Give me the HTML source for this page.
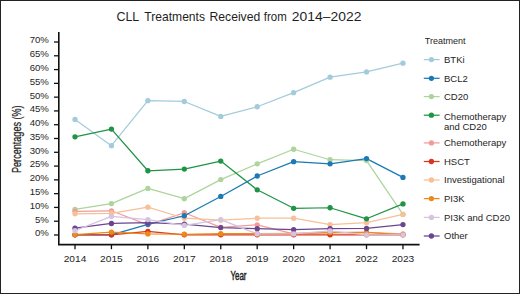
<!DOCTYPE html>
<html><head><meta charset="utf-8"><style>
html,body{margin:0;padding:0;background:#fff;}
body{width:520px;height:294px;overflow:hidden;}
svg{display:block;}
text{font-family:"Liberation Sans",sans-serif;fill:#1e1e1e;}
.tk{font-size:9.6px;}
.lt{font-size:9px;}
.lg{font-size:9.5px;}
.ti{font-size:12.2px;}
.ax{font-size:12.3px;}
.axb{stroke:#1e1e1e;stroke-width:0.25px;}
.axb2{stroke:#1e1e1e;stroke-width:0.45px;}
</style></head><body>
<svg width="520" height="294" viewBox="0 0 520 294">
<rect x="0.5" y="0.5" width="519" height="293" fill="#fff" stroke="#222" stroke-width="1"/>
<text x="116.40" y="21.2" class="ti" textLength="22.90" lengthAdjust="spacingAndGlyphs">CLL</text>
<text x="144.30" y="21.2" class="ti" textLength="60.70" lengthAdjust="spacingAndGlyphs">Treatments</text>
<text x="209.50" y="21.2" class="ti" textLength="50.70" lengthAdjust="spacingAndGlyphs">Received</text>
<text x="263.80" y="21.2" class="ti" textLength="22.90" lengthAdjust="spacingAndGlyphs">from</text>
<text x="291.80" y="21.2" class="ti" textLength="69.60" lengthAdjust="spacingAndGlyphs">2014–2022</text>
<text transform="translate(21.1,173.0) rotate(-90) scale(0.74,1)" class="ax axb">Percentages (%)</text>
<text transform="translate(230.4,280.3) scale(0.65,1)" class="ax axb2">Year</text>
<path d="M58.8,32 V244.6 H419.6" fill="none" stroke="#111" stroke-width="1.6"/>
<path d="M54,235.00 H58.8" stroke="#111" stroke-width="1.3"/>
<text x="48.9" y="236.40" text-anchor="end" class="tk">0%</text>
<path d="M54,221.22 H58.8" stroke="#111" stroke-width="1.3"/>
<text x="48.9" y="222.62" text-anchor="end" class="tk">5%</text>
<path d="M54,207.43 H58.8" stroke="#111" stroke-width="1.3"/>
<text x="48.9" y="208.83" text-anchor="end" class="tk">10%</text>
<path d="M54,193.64 H58.8" stroke="#111" stroke-width="1.3"/>
<text x="48.9" y="195.04" text-anchor="end" class="tk">15%</text>
<path d="M54,179.86 H58.8" stroke="#111" stroke-width="1.3"/>
<text x="48.9" y="181.26" text-anchor="end" class="tk">20%</text>
<path d="M54,166.07 H58.8" stroke="#111" stroke-width="1.3"/>
<text x="48.9" y="167.47" text-anchor="end" class="tk">25%</text>
<path d="M54,152.29 H58.8" stroke="#111" stroke-width="1.3"/>
<text x="48.9" y="153.69" text-anchor="end" class="tk">30%</text>
<path d="M54,138.50 H58.8" stroke="#111" stroke-width="1.3"/>
<text x="48.9" y="139.91" text-anchor="end" class="tk">35%</text>
<path d="M54,124.72 H58.8" stroke="#111" stroke-width="1.3"/>
<text x="48.9" y="126.12" text-anchor="end" class="tk">40%</text>
<path d="M54,110.93 H58.8" stroke="#111" stroke-width="1.3"/>
<text x="48.9" y="112.33" text-anchor="end" class="tk">45%</text>
<path d="M54,97.15 H58.8" stroke="#111" stroke-width="1.3"/>
<text x="48.9" y="98.55" text-anchor="end" class="tk">50%</text>
<path d="M54,83.36 H58.8" stroke="#111" stroke-width="1.3"/>
<text x="48.9" y="84.76" text-anchor="end" class="tk">55%</text>
<path d="M54,69.58 H58.8" stroke="#111" stroke-width="1.3"/>
<text x="48.9" y="70.98" text-anchor="end" class="tk">60%</text>
<path d="M54,55.79 H58.8" stroke="#111" stroke-width="1.3"/>
<text x="48.9" y="57.19" text-anchor="end" class="tk">65%</text>
<path d="M54,42.01 H58.8" stroke="#111" stroke-width="1.3"/>
<text x="48.9" y="43.41" text-anchor="end" class="tk">70%</text>
<path d="M75.00,244.6 V249.2" stroke="#111" stroke-width="1.3"/>
<text x="75.00" y="262.0" text-anchor="middle" class="tk" textLength="22.6" lengthAdjust="spacingAndGlyphs">2014</text>
<path d="M111.44,244.6 V249.2" stroke="#111" stroke-width="1.3"/>
<text x="111.44" y="262.0" text-anchor="middle" class="tk" textLength="22.6" lengthAdjust="spacingAndGlyphs">2015</text>
<path d="M147.88,244.6 V249.2" stroke="#111" stroke-width="1.3"/>
<text x="147.88" y="262.0" text-anchor="middle" class="tk" textLength="22.6" lengthAdjust="spacingAndGlyphs">2016</text>
<path d="M184.32,244.6 V249.2" stroke="#111" stroke-width="1.3"/>
<text x="184.32" y="262.0" text-anchor="middle" class="tk" textLength="22.6" lengthAdjust="spacingAndGlyphs">2017</text>
<path d="M220.76,244.6 V249.2" stroke="#111" stroke-width="1.3"/>
<text x="220.76" y="262.0" text-anchor="middle" class="tk" textLength="22.6" lengthAdjust="spacingAndGlyphs">2018</text>
<path d="M257.20,244.6 V249.2" stroke="#111" stroke-width="1.3"/>
<text x="257.20" y="262.0" text-anchor="middle" class="tk" textLength="22.6" lengthAdjust="spacingAndGlyphs">2019</text>
<path d="M293.64,244.6 V249.2" stroke="#111" stroke-width="1.3"/>
<text x="293.64" y="262.0" text-anchor="middle" class="tk" textLength="22.6" lengthAdjust="spacingAndGlyphs">2020</text>
<path d="M330.08,244.6 V249.2" stroke="#111" stroke-width="1.3"/>
<text x="330.08" y="262.0" text-anchor="middle" class="tk" textLength="22.6" lengthAdjust="spacingAndGlyphs">2021</text>
<path d="M366.52,244.6 V249.2" stroke="#111" stroke-width="1.3"/>
<text x="366.52" y="262.0" text-anchor="middle" class="tk" textLength="22.6" lengthAdjust="spacingAndGlyphs">2022</text>
<path d="M402.96,244.6 V249.2" stroke="#111" stroke-width="1.3"/>
<text x="402.96" y="262.0" text-anchor="middle" class="tk" textLength="22.6" lengthAdjust="spacingAndGlyphs">2023</text>
<g fill="none" stroke-linejoin="round" stroke-linecap="round">
<polyline points="75.00,119.43 111.44,145.65 147.88,100.66 184.32,101.49 220.76,116.40 257.20,106.74 293.64,92.66 330.08,77.20 366.52,71.96 402.96,63.13" stroke="#a3cbdc" stroke-width="1.25"/>
<polyline points="75.00,209.41 111.44,203.61 147.88,188.43 184.32,198.64 220.76,179.60 257.20,163.87 293.64,149.24 330.08,159.73 366.52,160.56 402.96,214.38" stroke="#acd49c" stroke-width="1.25"/>
<polyline points="75.00,211.34 111.44,210.79 147.88,224.86 184.32,212.72 220.76,227.35 257.20,224.86 293.64,233.97 330.08,232.59 366.52,232.32 402.96,233.97" stroke="#f29c9a" stroke-width="1.25"/>
<polyline points="75.00,213.82 111.44,213.27 147.88,207.20 184.32,218.24 220.76,220.17 257.20,218.24 293.64,218.24 330.08,224.59 366.52,222.66 402.96,214.38" stroke="#f7c096" stroke-width="1.25"/>
<polyline points="75.00,234.80 111.44,234.80 147.88,224.31 184.32,215.76 220.76,196.44 257.20,176.01 293.64,161.66 330.08,163.87 366.52,158.62 402.96,177.39" stroke="#1b79b6" stroke-width="1.25"/>
<polyline points="75.00,234.80 111.44,234.80 147.88,231.49 184.32,234.80 220.76,234.80 257.20,234.80 293.64,234.80 330.08,234.80 366.52,234.80 402.96,234.80" stroke="#d9351f" stroke-width="1.25"/>
<polyline points="75.00,234.52 111.44,232.04 147.88,233.97 184.32,234.25 220.76,233.70 257.20,233.70 293.64,233.42 330.08,232.59 366.52,232.32 402.96,234.80" stroke="#ec8a18" stroke-width="1.25"/>
<polyline points="75.00,136.82 111.44,129.09 147.88,170.77 184.32,169.11 220.76,161.11 257.20,189.81 293.64,208.30 330.08,207.75 366.52,218.79 402.96,203.89" stroke="#1f9446" stroke-width="1.25"/>
<polyline points="75.00,228.18 111.44,223.48 147.88,222.66 184.32,224.04 220.76,227.62 257.20,228.73 293.64,229.56 330.08,228.73 366.52,228.45 402.96,224.59" stroke="#6b468f" stroke-width="1.25"/>
<polyline points="75.00,230.66 111.44,216.31 147.88,219.62 184.32,225.42 220.76,219.62 257.20,233.97 293.64,233.97 330.08,230.94 366.52,234.80 402.96,234.80" stroke="#d6c3df" stroke-width="1.25"/>
<circle cx="75.00" cy="119.43" r="2.65" fill="#a3cbdc" stroke="none"/>
<circle cx="111.44" cy="145.65" r="2.65" fill="#a3cbdc" stroke="none"/>
<circle cx="147.88" cy="100.66" r="2.65" fill="#a3cbdc" stroke="none"/>
<circle cx="184.32" cy="101.49" r="2.65" fill="#a3cbdc" stroke="none"/>
<circle cx="220.76" cy="116.40" r="2.65" fill="#a3cbdc" stroke="none"/>
<circle cx="257.20" cy="106.74" r="2.65" fill="#a3cbdc" stroke="none"/>
<circle cx="293.64" cy="92.66" r="2.65" fill="#a3cbdc" stroke="none"/>
<circle cx="330.08" cy="77.20" r="2.65" fill="#a3cbdc" stroke="none"/>
<circle cx="366.52" cy="71.96" r="2.65" fill="#a3cbdc" stroke="none"/>
<circle cx="402.96" cy="63.13" r="2.65" fill="#a3cbdc" stroke="none"/>
<circle cx="75.00" cy="209.41" r="2.65" fill="#acd49c" stroke="none"/>
<circle cx="111.44" cy="203.61" r="2.65" fill="#acd49c" stroke="none"/>
<circle cx="147.88" cy="188.43" r="2.65" fill="#acd49c" stroke="none"/>
<circle cx="184.32" cy="198.64" r="2.65" fill="#acd49c" stroke="none"/>
<circle cx="220.76" cy="179.60" r="2.65" fill="#acd49c" stroke="none"/>
<circle cx="257.20" cy="163.87" r="2.65" fill="#acd49c" stroke="none"/>
<circle cx="293.64" cy="149.24" r="2.65" fill="#acd49c" stroke="none"/>
<circle cx="330.08" cy="159.73" r="2.65" fill="#acd49c" stroke="none"/>
<circle cx="366.52" cy="160.56" r="2.65" fill="#acd49c" stroke="none"/>
<circle cx="402.96" cy="214.38" r="2.65" fill="#acd49c" stroke="none"/>
<circle cx="75.00" cy="211.34" r="2.65" fill="#f29c9a" stroke="none"/>
<circle cx="111.44" cy="210.79" r="2.65" fill="#f29c9a" stroke="none"/>
<circle cx="147.88" cy="224.86" r="2.65" fill="#f29c9a" stroke="none"/>
<circle cx="184.32" cy="212.72" r="2.65" fill="#f29c9a" stroke="none"/>
<circle cx="220.76" cy="227.35" r="2.65" fill="#f29c9a" stroke="none"/>
<circle cx="257.20" cy="224.86" r="2.65" fill="#f29c9a" stroke="none"/>
<circle cx="293.64" cy="233.97" r="2.65" fill="#f29c9a" stroke="none"/>
<circle cx="330.08" cy="232.59" r="2.65" fill="#f29c9a" stroke="none"/>
<circle cx="366.52" cy="232.32" r="2.65" fill="#f29c9a" stroke="none"/>
<circle cx="402.96" cy="233.97" r="2.65" fill="#f29c9a" stroke="none"/>
<circle cx="75.00" cy="213.82" r="2.65" fill="#f7c096" stroke="none"/>
<circle cx="111.44" cy="213.27" r="2.65" fill="#f7c096" stroke="none"/>
<circle cx="147.88" cy="207.20" r="2.65" fill="#f7c096" stroke="none"/>
<circle cx="184.32" cy="218.24" r="2.65" fill="#f7c096" stroke="none"/>
<circle cx="220.76" cy="220.17" r="2.65" fill="#f7c096" stroke="none"/>
<circle cx="257.20" cy="218.24" r="2.65" fill="#f7c096" stroke="none"/>
<circle cx="293.64" cy="218.24" r="2.65" fill="#f7c096" stroke="none"/>
<circle cx="330.08" cy="224.59" r="2.65" fill="#f7c096" stroke="none"/>
<circle cx="366.52" cy="222.66" r="2.65" fill="#f7c096" stroke="none"/>
<circle cx="402.96" cy="214.38" r="2.65" fill="#f7c096" stroke="none"/>
<circle cx="75.00" cy="234.80" r="2.65" fill="#1b79b6" stroke="none"/>
<circle cx="111.44" cy="234.80" r="2.65" fill="#1b79b6" stroke="none"/>
<circle cx="147.88" cy="224.31" r="2.65" fill="#1b79b6" stroke="none"/>
<circle cx="184.32" cy="215.76" r="2.65" fill="#1b79b6" stroke="none"/>
<circle cx="220.76" cy="196.44" r="2.65" fill="#1b79b6" stroke="none"/>
<circle cx="257.20" cy="176.01" r="2.65" fill="#1b79b6" stroke="none"/>
<circle cx="293.64" cy="161.66" r="2.65" fill="#1b79b6" stroke="none"/>
<circle cx="330.08" cy="163.87" r="2.65" fill="#1b79b6" stroke="none"/>
<circle cx="366.52" cy="158.62" r="2.65" fill="#1b79b6" stroke="none"/>
<circle cx="402.96" cy="177.39" r="2.65" fill="#1b79b6" stroke="none"/>
<circle cx="75.00" cy="234.80" r="2.65" fill="#d9351f" stroke="none"/>
<circle cx="111.44" cy="234.80" r="2.65" fill="#d9351f" stroke="none"/>
<circle cx="147.88" cy="231.49" r="2.65" fill="#d9351f" stroke="none"/>
<circle cx="184.32" cy="234.80" r="2.65" fill="#d9351f" stroke="none"/>
<circle cx="220.76" cy="234.80" r="2.65" fill="#d9351f" stroke="none"/>
<circle cx="257.20" cy="234.80" r="2.65" fill="#d9351f" stroke="none"/>
<circle cx="293.64" cy="234.80" r="2.65" fill="#d9351f" stroke="none"/>
<circle cx="330.08" cy="234.80" r="2.65" fill="#d9351f" stroke="none"/>
<circle cx="366.52" cy="234.80" r="2.65" fill="#d9351f" stroke="none"/>
<circle cx="402.96" cy="234.80" r="2.65" fill="#d9351f" stroke="none"/>
<circle cx="75.00" cy="234.52" r="2.65" fill="#ec8a18" stroke="none"/>
<circle cx="111.44" cy="232.04" r="2.65" fill="#ec8a18" stroke="none"/>
<circle cx="147.88" cy="233.97" r="2.65" fill="#ec8a18" stroke="none"/>
<circle cx="184.32" cy="234.25" r="2.65" fill="#ec8a18" stroke="none"/>
<circle cx="220.76" cy="233.70" r="2.65" fill="#ec8a18" stroke="none"/>
<circle cx="257.20" cy="233.70" r="2.65" fill="#ec8a18" stroke="none"/>
<circle cx="293.64" cy="233.42" r="2.65" fill="#ec8a18" stroke="none"/>
<circle cx="330.08" cy="232.59" r="2.65" fill="#ec8a18" stroke="none"/>
<circle cx="366.52" cy="232.32" r="2.65" fill="#ec8a18" stroke="none"/>
<circle cx="402.96" cy="234.80" r="2.65" fill="#ec8a18" stroke="none"/>
<circle cx="75.00" cy="136.82" r="2.65" fill="#1f9446" stroke="none"/>
<circle cx="111.44" cy="129.09" r="2.65" fill="#1f9446" stroke="none"/>
<circle cx="147.88" cy="170.77" r="2.65" fill="#1f9446" stroke="none"/>
<circle cx="184.32" cy="169.11" r="2.65" fill="#1f9446" stroke="none"/>
<circle cx="220.76" cy="161.11" r="2.65" fill="#1f9446" stroke="none"/>
<circle cx="257.20" cy="189.81" r="2.65" fill="#1f9446" stroke="none"/>
<circle cx="293.64" cy="208.30" r="2.65" fill="#1f9446" stroke="none"/>
<circle cx="330.08" cy="207.75" r="2.65" fill="#1f9446" stroke="none"/>
<circle cx="366.52" cy="218.79" r="2.65" fill="#1f9446" stroke="none"/>
<circle cx="402.96" cy="203.89" r="2.65" fill="#1f9446" stroke="none"/>
<circle cx="75.00" cy="228.18" r="2.65" fill="#6b468f" stroke="none"/>
<circle cx="111.44" cy="223.48" r="2.65" fill="#6b468f" stroke="none"/>
<circle cx="147.88" cy="222.66" r="2.65" fill="#6b468f" stroke="none"/>
<circle cx="184.32" cy="224.04" r="2.65" fill="#6b468f" stroke="none"/>
<circle cx="220.76" cy="227.62" r="2.65" fill="#6b468f" stroke="none"/>
<circle cx="257.20" cy="228.73" r="2.65" fill="#6b468f" stroke="none"/>
<circle cx="293.64" cy="229.56" r="2.65" fill="#6b468f" stroke="none"/>
<circle cx="330.08" cy="228.73" r="2.65" fill="#6b468f" stroke="none"/>
<circle cx="366.52" cy="228.45" r="2.65" fill="#6b468f" stroke="none"/>
<circle cx="402.96" cy="224.59" r="2.65" fill="#6b468f" stroke="none"/>
<circle cx="75.00" cy="230.66" r="2.65" fill="#d6c3df" stroke="none"/>
<circle cx="111.44" cy="216.31" r="2.65" fill="#d6c3df" stroke="none"/>
<circle cx="147.88" cy="219.62" r="2.65" fill="#d6c3df" stroke="none"/>
<circle cx="184.32" cy="225.42" r="2.65" fill="#d6c3df" stroke="none"/>
<circle cx="220.76" cy="219.62" r="2.65" fill="#d6c3df" stroke="none"/>
<circle cx="257.20" cy="233.97" r="2.65" fill="#d6c3df" stroke="none"/>
<circle cx="293.64" cy="233.97" r="2.65" fill="#d6c3df" stroke="none"/>
<circle cx="330.08" cy="230.94" r="2.65" fill="#d6c3df" stroke="none"/>
<circle cx="366.52" cy="234.80" r="2.65" fill="#d6c3df" stroke="none"/>
<circle cx="402.96" cy="234.80" r="2.65" fill="#d6c3df" stroke="none"/>
</g>
<text x="424.8" y="43.6" class="lt">Treatment</text>
<path d="M423.8,59.6 H439.6" stroke="#a3cbdc" stroke-width="1.25"/>
<circle cx="431.4" cy="59.6" r="2.65" fill="#a3cbdc"/>
<text x="444" y="62.9" class="lg">BTKi</text>
<path d="M423.8,78.3 H439.6" stroke="#1b79b6" stroke-width="1.25"/>
<circle cx="431.4" cy="78.3" r="2.65" fill="#1b79b6"/>
<text x="444" y="81.6" class="lg">BCL2</text>
<path d="M423.8,96.6 H439.6" stroke="#acd49c" stroke-width="1.25"/>
<circle cx="431.4" cy="96.6" r="2.65" fill="#acd49c"/>
<text x="444" y="99.89999999999999" class="lg">CD20</text>
<path d="M423.8,115.2 H439.6" stroke="#1f9446" stroke-width="1.25"/>
<circle cx="431.4" cy="115.2" r="2.65" fill="#1f9446"/>
<text x="444" y="119.60000000000001" class="lg">Chemotherapy</text>
<text x="444" y="130.4" class="lg">and CD20</text>
<path d="M423.8,142.9 H439.6" stroke="#f29c9a" stroke-width="1.25"/>
<circle cx="431.4" cy="142.9" r="2.65" fill="#f29c9a"/>
<text x="444" y="146.20000000000002" class="lg">Chemotherapy</text>
<path d="M423.8,161.5 H439.6" stroke="#d9351f" stroke-width="1.25"/>
<circle cx="431.4" cy="161.5" r="2.65" fill="#d9351f"/>
<text x="444" y="164.8" class="lg">HSCT</text>
<path d="M423.8,180.0 H439.6" stroke="#f7c096" stroke-width="1.25"/>
<circle cx="431.4" cy="180.0" r="2.65" fill="#f7c096"/>
<text x="444" y="183.3" class="lg">Investigational</text>
<path d="M423.8,198.6 H439.6" stroke="#ec8a18" stroke-width="1.25"/>
<circle cx="431.4" cy="198.6" r="2.65" fill="#ec8a18"/>
<text x="444" y="201.9" class="lg">PI3K</text>
<path d="M423.8,217.4 H439.6" stroke="#d6c3df" stroke-width="1.25"/>
<circle cx="431.4" cy="217.4" r="2.65" fill="#d6c3df"/>
<text x="444" y="220.70000000000002" class="lg">PI3K and CD20</text>
<path d="M423.8,236.0 H439.6" stroke="#6b468f" stroke-width="1.25"/>
<circle cx="431.4" cy="236.0" r="2.65" fill="#6b468f"/>
<text x="444" y="239.3" class="lg">Other</text>
</svg>
</body></html>
